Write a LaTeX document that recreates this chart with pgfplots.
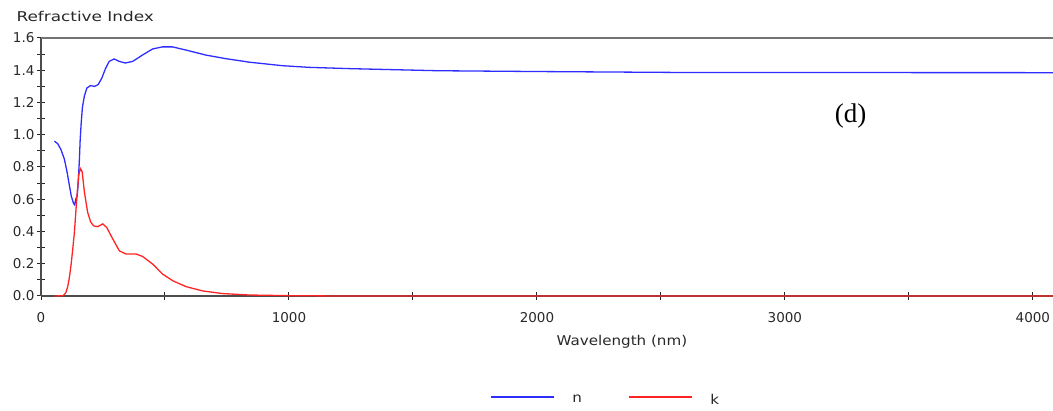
\documentclass[border=0pt]{standalone}
\usepackage{pgfplots}
\pgfplotsset{compat=1.18}
\usepackage{fontspec}
\setmainfont{DejaVu Sans}
\newfontfamily\labfont[FakeStretch=1.12]{DejaVu Sans}
\newfontfamily\titfont[FakeStretch=1.25]{DejaVu Sans}
\newfontfamily\seriffont{Liberation Serif}
\definecolor{nblue}{RGB}{45,45,255}
\definecolor{kred}{RGB}{255,35,35}
\definecolor{txt}{RGB}{40,40,40}
\begin{document}
\begin{tikzpicture}[x=1pt,y=1pt]
\useasboundingbox (0,0) rectangle (1053,411);
\begin{axis}[
  at={(41pt,115pt)}, anchor=south west,
  scale only axis, width=1012pt, height=258pt,
  xmin=0, xmax=4081, ymin=0, ymax=1.6,
  axis x line*=bottom, axis y line*=left,
  clip=false,
  xtick={0,1000,2000,3000,4000},
  xticklabels={0,1000,2000,3000,4000},
  minor xtick={500,1500,2500,3500},
  ytick={0,0.2,0.4,0.6,0.8,1.0,1.2,1.4,1.6},
  yticklabels={0.0,0.2,0.4,0.6,0.8,1.0,1.2,1.4,1.6},
  minor ytick={0.1,0.3,0.5,0.7,0.9,1.1,1.3,1.5},
  tick align=center,
  major tick length=8pt, minor tick length=8pt,
  tick style={black!85, line width=1pt},
  axis line style={black!70, line width=1.2pt},
  x tick label style={font=\fontsize{13.5}{15}\selectfont, text=txt, yshift=-9pt},
  y tick label style={font=\fontsize{13.5}{15}\selectfont, text=txt, xshift=1pt},
  xlabel={Wavelength (nm)},
  xlabel style={at={(axis description cs:0.574,-0.19)}, anchor=base, font=\labfont\fontsize{13.5}{15}\selectfont, text=txt},
  legend columns=2,
  legend image code/.code={\draw[#1, line width=1.4pt] (0pt,0pt) -- (63pt,0pt);},
  legend style={at={(axis description cs:0.4437,-0.403)}, anchor=west,
    draw=none, fill=none, inner sep=0pt, outer sep=0pt,
    font=\labfont\fontsize{13.5}{15}\selectfont, text=txt,
    column sep=18pt,
    /tikz/every even column/.append style={column sep=46pt},
    nodes={inner sep=0pt, anchor=west, yshift=-3pt}},
]
\addplot[nblue, line width=1.3pt] coordinates {
(54,0.96) (67,0.945) (80,0.91) (94,0.85) (105,0.77) (114,0.69) (122,0.62) (131,0.575)
(136,0.565) (140,0.60) (146,0.62) (150,0.70) (155,0.85) (158,0.97) (162,1.07) (167,1.17)
(175,1.24) (185,1.29) (200,1.305) (215,1.30) (230,1.31) (245,1.35) (260,1.41) (275,1.455)
(295,1.47) (315,1.455) (340,1.445) (370,1.455) (410,1.495) (450,1.532) (490,1.545)
(530,1.545) (585,1.525) (665,1.494) (745,1.472) (840,1.45) (975,1.428) (1080,1.418)
(1245,1.41) (1600,1.397) (2000,1.392) (2600,1.386) (4081,1.385)
};
\addlegendentry{n}
\addplot[kred, line width=1.3pt] coordinates {
(54,0) (90,0.002) (100,0.02) (108,0.06) (115,0.12) (121,0.19) (128,0.29) (135,0.40)
(144,0.60) (152,0.75) (159,0.79) (166,0.77) (175,0.645) (188,0.52) (200,0.46) (212,0.435)
(229,0.43) (249,0.447) (265,0.425) (289,0.355) (316,0.28) (343,0.26) (384,0.26) (410,0.245)
(451,0.197) (491,0.135) (532,0.094) (585,0.058) (653,0.031) (733,0.015) (841,0.006)
(1003,0.002) (1200,0) (4081,0)
};
\addlegendentry{k}
\draw[black!55, line width=1.5pt] (rel axis cs:0,1) -- (rel axis cs:1,1);
\node[font=\seriffont\fontsize{27}{29}\selectfont] at (axis cs:3265,1.116) {(d)};
\end{axis}
\node[anchor=base west, font=\titfont\fontsize{13.5}{15}\selectfont, text=txt] at (13,389) {Refractive Index};
\end{tikzpicture}
\end{document}
